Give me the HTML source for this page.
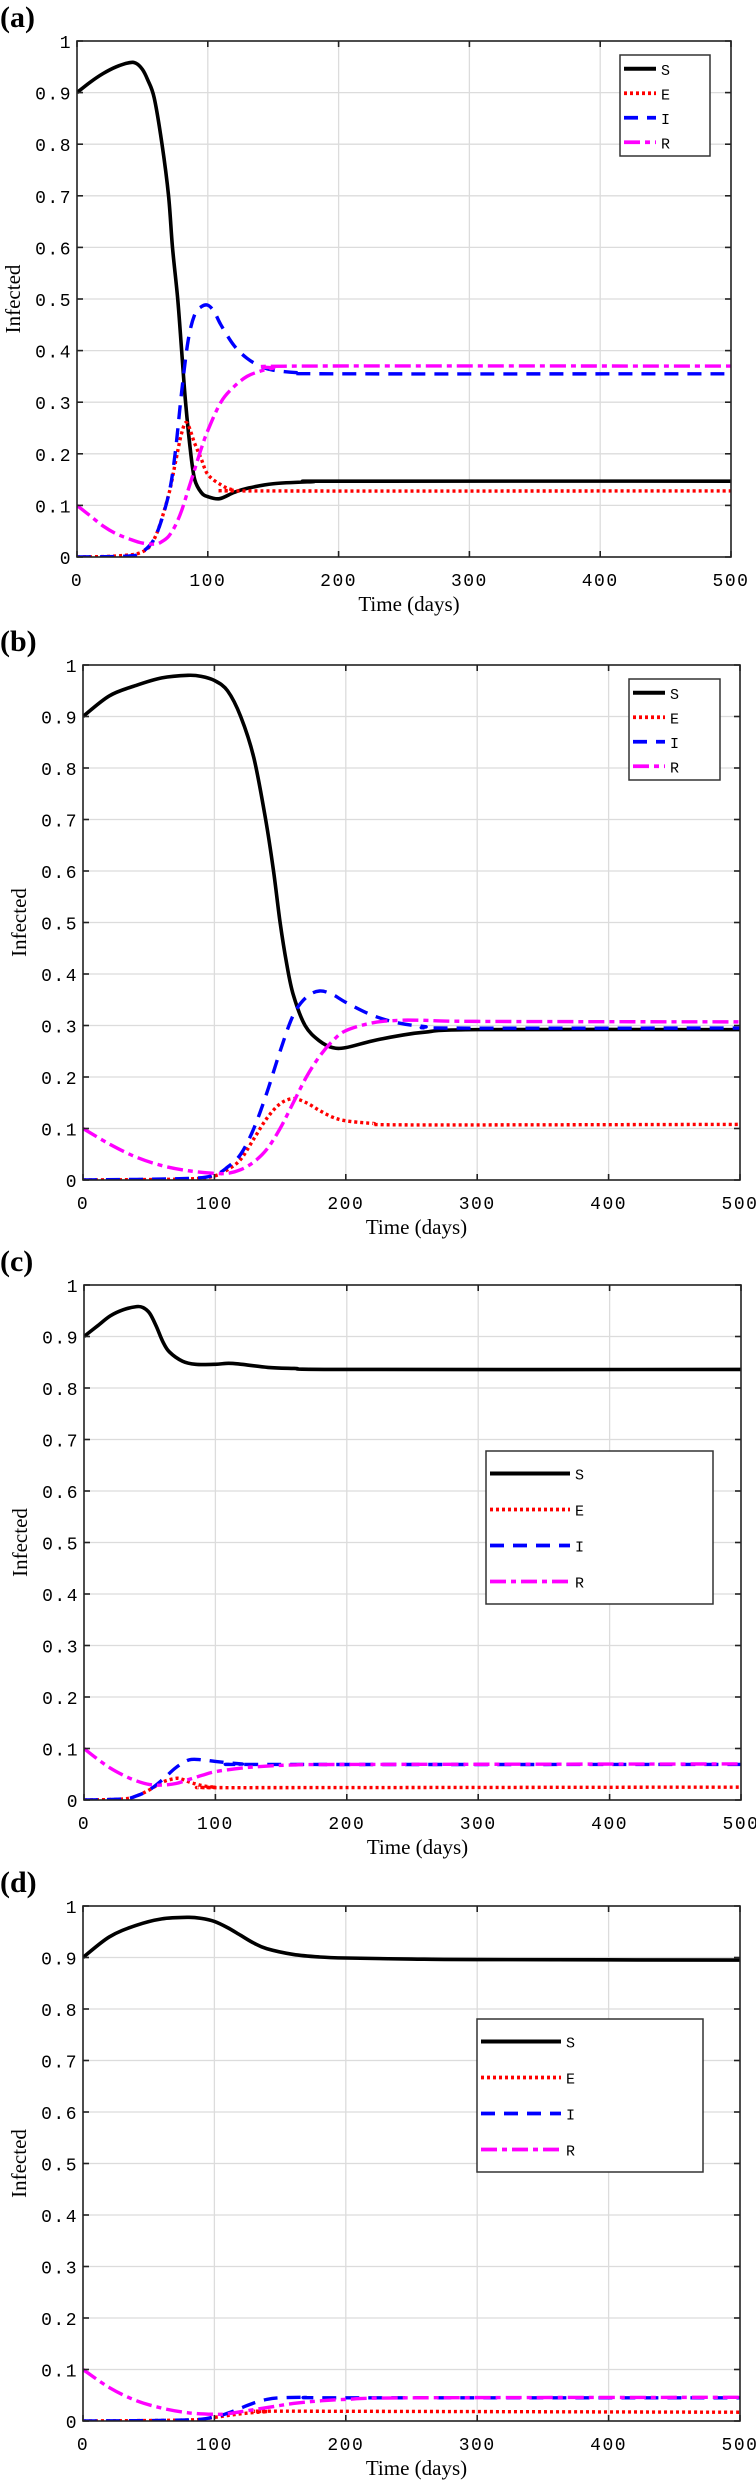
<!DOCTYPE html>
<html><head><meta charset="utf-8"><style>
html,body{margin:0;padding:0;background:#fff;}
svg{display:block;}
.tick{font-family:"Liberation Mono",monospace;font-size:18px;fill:#000;}
.lab{font-family:"Liberation Serif",serif;font-size:21px;fill:#000;}
.pl{font-family:"Liberation Serif",serif;font-size:30px;font-weight:bold;fill:#000;}
.leg{font-family:"Liberation Mono",monospace;font-size:15px;fill:#000;}
</style></head><body>
<svg id="fig" width="756" height="2482" viewBox="0 0 756 2482" xmlns="http://www.w3.org/2000/svg"></svg>
<script>
// ---- data ----
const panelLabels = ["(a)","(b)","(c)","(d)"];
const xTicks = [0,100,200,300,400,500];
const yTicks = [0,0.1,0.2,0.3,0.4,0.5,0.6,0.7,0.8,0.9,1];
const yTickLabels = ["0","0.1","0.2","0.3","0.4","0.5","0.6","0.7","0.8","0.9","1"];
const seriesNames = ["S","E","I","R"];

const aS_t = [0,10,20,30,40,45,50,54,59,65,70,73,77,80,83,87,90,95,100,109,120,130,150,180,200,500];
const aS_v = [0.9,0.92,0.937,0.95,0.958,0.957,0.945,0.925,0.89,0.8,0.7,0.6,0.5,0.4,0.3,0.2,0.15,0.125,0.117,0.113,0.125,0.133,0.142,0.146,0.147,0.147];
const aE_t = [0,30,50,60,70,75,80,84,90,95,100,110,120,140,500];
const aE_v = [0,0.002,0.01,0.04,0.12,0.18,0.24,0.26,0.22,0.19,0.16,0.14,0.13,0.128,0.128];
const aI_t = [0,40,50,60,70,75,80,85,90,95,100,105,110,120,130,140,150,170,200,500];
const aI_v = [0,0.002,0.01,0.04,0.12,0.2,0.32,0.42,0.47,0.485,0.488,0.475,0.45,0.41,0.385,0.37,0.362,0.357,0.355,0.355];
const aR_t = [0,10,20,30,40,50,60,65,70,75,80,85,90,95,100,110,120,130,140,150,170,500];
const aR_v = [0.1,0.08,0.06,0.045,0.035,0.027,0.025,0.03,0.04,0.06,0.09,0.13,0.17,0.21,0.245,0.3,0.33,0.35,0.36,0.366,0.37,0.37];

const bS_t = [0,20,40,60,80,90,100,110,120,130,139,145,150,155,160,169,180,190,200,220,240,260,300,500];
const bS_v = [0.9,0.94,0.96,0.975,0.98,0.978,0.97,0.95,0.9,0.82,0.7,0.6,0.5,0.42,0.36,0.3,0.27,0.257,0.257,0.27,0.28,0.287,0.292,0.292];
const bE_t = [0,80,100,110,120,130,140,150,160,170,180,190,200,220,250,500];
const bE_v = [0,0.002,0.008,0.02,0.04,0.08,0.12,0.148,0.158,0.15,0.135,0.122,0.115,0.11,0.107,0.108];
const bI_t = [0,80,100,110,120,130,140,150,160,170,180,190,200,220,240,260,280,500];
const bI_v = [0,0.003,0.01,0.025,0.05,0.1,0.17,0.25,0.32,0.355,0.367,0.36,0.345,0.32,0.305,0.298,0.295,0.295];
const bR_t = [0,20,40,60,80,100,110,120,130,140,150,160,170,180,190,200,220,240,260,300,500];
const bR_v = [0.1,0.07,0.045,0.028,0.018,0.013,0.013,0.02,0.035,0.06,0.1,0.15,0.2,0.24,0.27,0.29,0.305,0.31,0.31,0.308,0.307];

const cS_t = [0,10,20,30,40,45,50,55,60,65,75,85,100,110,120,140,160,200,500];
const cS_v = [0.9,0.92,0.94,0.952,0.958,0.956,0.945,0.92,0.89,0.87,0.852,0.846,0.846,0.848,0.846,0.84,0.838,0.836,0.836];
const cE_t = [0,30,40,50,60,70,75,80,90,100,120,500];
const cE_v = [0,0.002,0.008,0.02,0.035,0.042,0.04,0.035,0.028,0.025,0.024,0.025];
const cI_t = [0,30,40,50,60,70,80,90,100,120,140,500];
const cI_v = [0,0.002,0.008,0.02,0.04,0.063,0.078,0.078,0.075,0.07,0.069,0.069];
const cR_t = [0,10,20,30,40,50,60,70,80,90,100,120,140,160,200,500];
const cR_v = [0.1,0.08,0.062,0.048,0.037,0.03,0.029,0.032,0.04,0.048,0.055,0.062,0.066,0.068,0.069,0.07];

const dS_t = [0,20,40,60,80,90,100,110,120,130,140,160,180,200,250,300,500];
const dS_v = [0.9,0.94,0.962,0.975,0.978,0.976,0.97,0.958,0.943,0.928,0.917,0.906,0.901,0.899,0.897,0.896,0.895];
const dE_t = [0,80,100,120,140,160,500];
const dE_v = [0,0.002,0.007,0.014,0.018,0.019,0.017];
const dI_t = [0,80,100,110,120,130,140,150,170,200,500];
const dI_v = [0,0.002,0.008,0.015,0.025,0.035,0.042,0.045,0.046,0.045,0.045];
const dR_t = [0,20,40,60,80,100,110,120,140,160,180,200,250,500];
const dR_v = [0.1,0.065,0.04,0.025,0.016,0.013,0.014,0.018,0.026,0.034,0.039,0.042,0.045,0.046];

const panelSeries = [
  [[aS_t,aS_v],[aE_t,aE_v],[aI_t,aI_v],[aR_t,aR_v]],
  [[bS_t,bS_v],[bE_t,bE_v],[bI_t,bI_v],[bR_t,bR_v]],
  [[cS_t,cS_v],[cE_t,cE_v],[cI_t,cI_v],[cR_t,cR_v]],
  [[dS_t,dS_v],[dE_t,dE_v],[dI_t,dI_v],[dR_t,dR_v]]
];

// ---- layout ----
const boxes = [
  {l:77,r:731,t:41,b:557, leg:{x:620,y:55,w:90,h:101,gap:24.5,ll:32}},
  {l:83,r:740,t:665,b:1180, leg:{x:629,y:679,w:91,h:101,gap:24.5,ll:32}},
  {l:84,r:741,t:1285,b:1800, leg:{x:486,y:1451,w:227,h:153,gap:36,ll:80}},
  {l:83,r:740,t:1906,b:2421, leg:{x:477,y:2019,w:226,h:153,gap:36,ll:80}}
];
const styles = [
  {c:"#000",d:"",w:3.6},
  {c:"#ff0000",d:"3,3",w:3.4},
  {c:"#0000ff",d:"14,9",w:3.4},
  {c:"#ff00ff",d:"16,5,5,5",w:3.4}
];
const NS="http://www.w3.org/2000/svg";
const svg=document.getElementById('fig');
function mk(tag,attrs,parent){const e=document.createElementNS(NS,tag);for(const k in attrs)e.setAttribute(k,attrs[k]);(parent||svg).appendChild(e);return e;}

boxes.forEach((B,pi)=>{
  const g=mk('g',{});
  
  
  const X=v=>B.l+(v/500)*(B.r-B.l);
  const Y=v=>B.b-v*(B.b-B.t);
  xTicks.forEach(t=>{if(t>0&&t<500){const l=mk('line',{x1:X(t),x2:X(t),y1:B.t,y2:B.b,stroke:'#dcdcdc','stroke-width':1.3},g);
    }});
  yTicks.forEach(t=>{if(t>0&&t<1){const l=mk('line',{x1:B.l,x2:B.r,y1:Y(t),y2:Y(t),stroke:'#dcdcdc','stroke-width':1.3},g);
    }});
  const clipId='clip'+pi;
  const cp=mk('clipPath',{id:clipId},g);mk('rect',{x:B.l,y:B.t-3,width:B.r-B.l,height:B.b-B.t+3},cp);
  panelSeries[pi].forEach((s,si)=>{
    const [ts,vs]=s;
    const pts=ts.map((t,i)=>[X(t),Y(vs[i])]);
    let d='M'+pts[0][0].toFixed(2)+','+pts[0][1].toFixed(2);
    for(let i=0;i<pts.length-1;i++){
      const p0=pts[Math.max(0,i-1)],p1=pts[i],p2=pts[i+1],p3=pts[Math.min(pts.length-1,i+2)];
      const c1=[p1[0]+(p2[0]-p0[0])/6,p1[1]+(p2[1]-p0[1])/6];
      const c2=[p2[0]-(p3[0]-p1[0])/6,p2[1]-(p3[1]-p1[1])/6];
      d+=' C'+c1.map(n=>n.toFixed(2))+' '+c2.map(n=>n.toFixed(2))+' '+p2.map(n=>n.toFixed(2));
    }
    const st=styles[si];
    const p=mk('path',{d:d,fill:'none',stroke:st.c,'stroke-width':st.w,'stroke-dasharray':st.d,'clip-path':'url(#'+clipId+')'},g);
    
    
  });
  const fr=mk('rect',{x:B.l,y:B.t,width:B.r-B.l,height:B.b-B.t,fill:'none',stroke:'#222','stroke-width':1.6},g);
  
  xTicks.forEach(t=>{
    mk('line',{x1:X(t),x2:X(t),y1:B.b,y2:B.b-6,stroke:'#222','stroke-width':1.6},g);
    mk('line',{x1:X(t),x2:X(t),y1:B.t,y2:B.t+6,stroke:'#222','stroke-width':1.6},g);
    const tx=mk('text',{x:X(t),y:B.b+29,'text-anchor':'middle',class:'tick','letter-spacing':'1.5'},g);tx.textContent=String(t);
    
  });
  yTicks.forEach((t,i)=>{
    mk('line',{x1:B.l,x2:B.l+6,y1:Y(t),y2:Y(t),stroke:'#222','stroke-width':1.6},g);
    mk('line',{x1:B.r,x2:B.r-6,y1:Y(t),y2:Y(t),stroke:'#222','stroke-width':1.6},g);
    const tx=mk('text',{x:B.l-5,y:Y(t)+7,'text-anchor':'end',class:'tick','letter-spacing':'1.5'},g);tx.textContent=yTickLabels[i];
    
  });
  const xl=mk('text',{x:(B.l+B.r)/2+5,y:B.b+54,'text-anchor':'middle',class:'lab'},g);xl.textContent='Time (days)';
  
  const cy=(B.t+B.b)/2;
  const yl=mk('text',{x:0,y:0,'text-anchor':'middle',class:'lab',transform:'translate('+(B.l-57)+','+cy+') rotate(-90)'},g);yl.textContent='Infected';
  
  const pl=mk('text',{x:0,y:B.t-14,class:'pl'},g);pl.textContent=panelLabels[pi];
  
  const L=B.leg;
  const lg=mk('g',{},g);
  
  mk('rect',{x:L.x,y:L.y,width:L.w,height:L.h,fill:'#fff',stroke:'#333','stroke-width':1.5},lg);
  const pad=(L.h-3*L.gap)/2;
  seriesNames.forEach((n,si)=>{
    const yy=L.y+pad+si*L.gap;
    const st=styles[si];
    mk('line',{x1:L.x+4,x2:L.x+4+L.ll,y1:yy,y2:yy,stroke:st.c,'stroke-width':st.w+0.3,'stroke-dasharray':st.d},lg);
    const t=mk('text',{x:L.x+L.ll+9,y:yy+6,class:'leg'},lg);t.textContent=n;
    
  });
});
</script>
</body></html>
